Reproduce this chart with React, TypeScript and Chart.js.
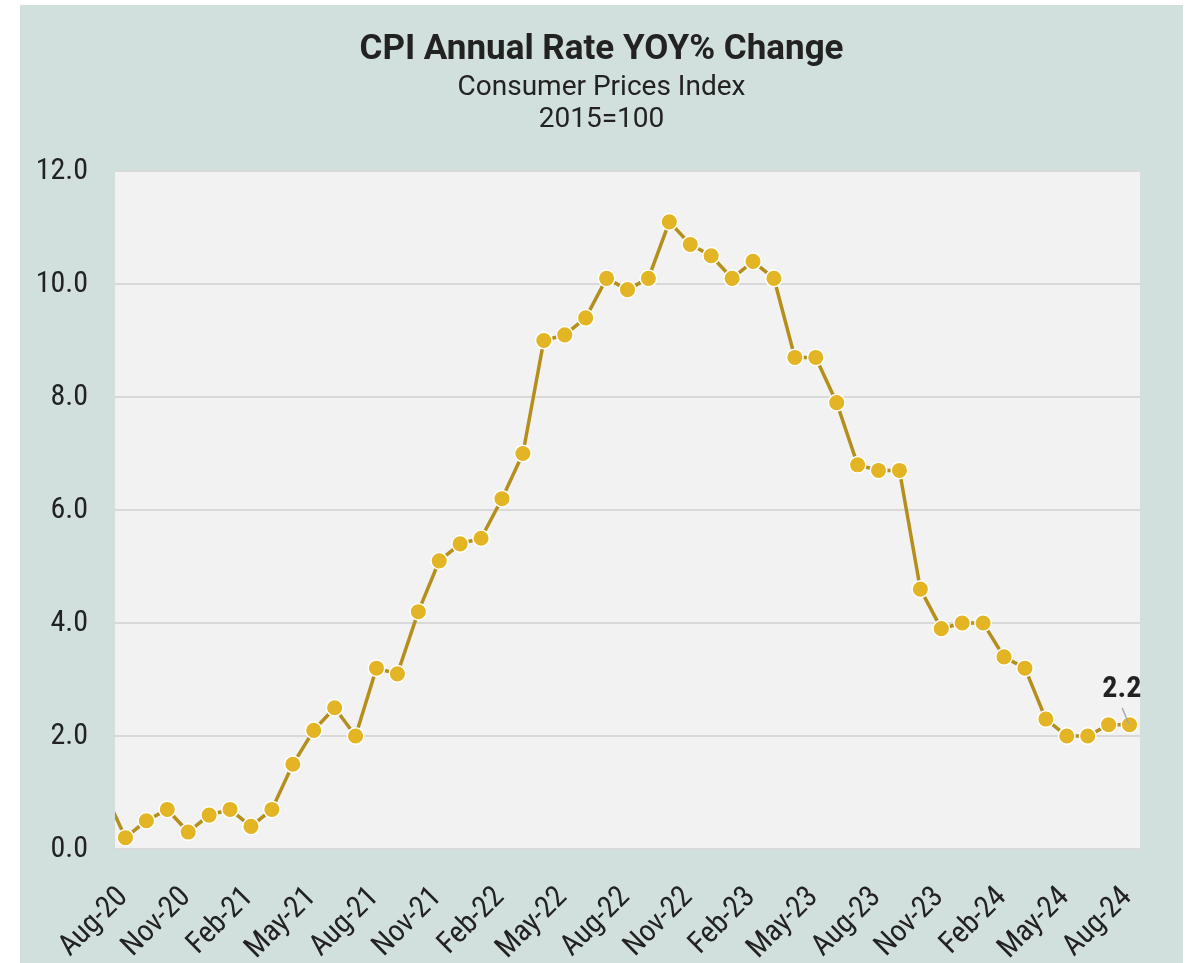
import React, { useEffect, useRef } from "react";
import { Chart, registerables } from "chart.js";

Chart.register(...registerables);

// ---- Data ----
const months: string[] = [
  "Jul-20", "Aug-20", "Sep-20", "Oct-20", "Nov-20", "Dec-20",
  "Jan-21", "Feb-21", "Mar-21", "Apr-21", "May-21", "Jun-21",
  "Jul-21", "Aug-21", "Sep-21", "Oct-21", "Nov-21", "Dec-21",
  "Jan-22", "Feb-22", "Mar-22", "Apr-22", "May-22", "Jun-22",
  "Jul-22", "Aug-22", "Sep-22", "Oct-22", "Nov-22", "Dec-22",
  "Jan-23", "Feb-23", "Mar-23", "Apr-23", "May-23", "Jun-23",
  "Jul-23", "Aug-23", "Sep-23", "Oct-23", "Nov-23", "Dec-23",
  "Jan-24", "Feb-24", "Mar-24", "Apr-24", "May-24", "Jun-24",
  "Jul-24", "Aug-24",
];

const cpiRate: number[] = [
  1.0, 0.2, 0.5, 0.7, 0.3, 0.6,
  0.7, 0.4, 0.7, 1.5, 2.1, 2.5,
  2.0, 3.2, 3.1, 4.2, 5.1, 5.4,
  5.5, 6.2, 7.0, 9.0, 9.1, 9.4,
  10.1, 9.9, 10.1, 11.1, 10.7, 10.5,
  10.1, 10.4, 10.1, 8.7, 8.7, 7.9,
  6.8, 6.7, 6.7, 4.6, 3.9, 4.0,
  4.0, 3.4, 3.2, 2.3, 2.0, 2.0,
  2.2, 2.2,
];

const firstShownMonth = "Aug-20";
const shownTickMonths: string[] = ["Aug", "Nov", "Feb", "May"];

const yMin = 0;
const yMax = 12;
const yStep = 2;

const titleText = "CPI Annual Rate YOY% Change";
const subtitleLines: string[] = ["Consumer Prices Index", "2015=100"];

// ---- Styles ----
const CANVAS_W = 1163;
const CANVAS_H = 958;
const TEAL = "#d2e0dd";
const PLOT_BG = "#f2f2f2";
const LINE_COLOR = "#b58f1c";
const POINT_COLOR = "#e3b524";
const TEXT_COLOR = "#222222";
const TICK_FONT = "'Roboto Condensed', 'Liberation Sans Narrow', 'DejaVu Sans Condensed', Roboto, sans-serif";
const TITLE_FONT = "Roboto, 'Open Sans', sans-serif";

const plotBackground = {
  id: "plotBackground",
  beforeDraw(chart: any) {
    const { ctx, chartArea } = chart;
    if (!chartArea) return;
    ctx.save();
    ctx.fillStyle = PLOT_BG;
    ctx.fillRect(chartArea.left, chartArea.top, chartArea.right - chartArea.left, chartArea.bottom - chartArea.top);
    ctx.restore();
  },
};

const titleBlock = {
  id: "titleBlock",
  afterDraw(chart: any) {
    const { ctx } = chart;
    const cx = chart.width / 2;
    ctx.save();
    ctx.fillStyle = TEXT_COLOR;
    ctx.textAlign = "center";
    ctx.textBaseline = "alphabetic";
    ctx.font = `bold 35px ${TITLE_FONT}`;
    ctx.fillText(titleText, cx, 54);
    ctx.font = `28px ${TITLE_FONT}`;
    ctx.fillText(subtitleLines[0], cx, 90);
    ctx.fillText(subtitleLines[1], cx, 122);
    ctx.restore();
  },
};

const lastValueLabel = {
  id: "lastValueLabel",
  afterDatasetsDraw(chart: any) {
    const meta = chart.getDatasetMeta(0);
    const lastIndex = cpiRate.length - 1;
    const pt = meta.data[lastIndex];
    if (!pt) return;
    const { ctx } = chart;
    const px = pt.x;
    const py = pt.y;
    ctx.save();
    ctx.strokeStyle = "#a8a8a8";
    ctx.lineWidth = 1.5;
    ctx.beginPath();
    ctx.moveTo(px - 7.3, py - 16.7);
    ctx.lineTo(px - 0.7, py - 0.7);
    ctx.stroke();
    ctx.fillStyle = TEXT_COLOR;
    ctx.font = `bold 30px ${TICK_FONT}`;
    ctx.textAlign = "center";
    ctx.textBaseline = "alphabetic";
    ctx.fillText(cpiRate[lastIndex].toFixed(1), px - 7.7, py - 28);
    ctx.restore();
  },
};

export default function App() {
  const canvasRef = useRef<HTMLCanvasElement | null>(null);

  useEffect(() => {
    const canvas = canvasRef.current;
    if (!canvas) return;
    const chart = new Chart(canvas, {
      type: "line",
      data: {
        labels: months,
        datasets: [
          {
            data: cpiRate,
            borderColor: LINE_COLOR,
            borderWidth: 3.5,
            backgroundColor: POINT_COLOR,
            pointBackgroundColor: POINT_COLOR,
            pointBorderColor: "#ffffff",
            pointBorderWidth: 1.5,
            pointRadius: 8.3,
            pointHoverRadius: 8.3,
            tension: 0,
            fill: false,
          },
        ],
      },
      options: {
        responsive: false,
        animation: false,
        layout: { padding: { top: 166, right: 43, left: 0, bottom: 0 } },
        plugins: {
          legend: { display: false },
          title: { display: false },
          tooltip: { enabled: false },
        },
        scales: {
          x: {
            type: "category",
            min: firstShownMonth,
            offset: true,
            grid: { display: false },
            border: { display: false },
            ticks: {
              autoSkip: false,
              minRotation: 45,
              maxRotation: 45,
              padding: 23,
              labelOffset: -2,
              color: TEXT_COLOR,
              font: { family: TICK_FONT, size: 30 },
              callback: (value: any) => {
                const label = months[value as number];
                return shownTickMonths.some((m) => label.startsWith(m)) ? label : null;
              },
            },
            afterFit: (scale: any) => {
              scale.height = 114;
            },
          },
          y: {
            min: yMin,
            max: yMax,
            grid: { color: "#d9d9d9", lineWidth: 2, drawTicks: false },
            border: { display: false },
            ticks: {
              stepSize: yStep,
              padding: 27,
              color: TEXT_COLOR,
              font: { family: TICK_FONT, size: 30 },
              callback: (value: any) => Number(value).toFixed(1),
            },
            afterFit: (scale: any) => {
              scale.width = 95;
            },
          },
        },
      },
      plugins: [plotBackground, titleBlock, lastValueLabel],
    });
    return () => chart.destroy();
  }, []);

  return (
    <div
      style={{
        position: "absolute",
        left: 20,
        top: 5,
        width: CANVAS_W,
        height: CANVAS_H,
        background: TEAL,
      }}
    >
      <canvas ref={canvasRef} width={CANVAS_W} height={CANVAS_H} style={{ display: "block" }} />
    </div>
  );
}
